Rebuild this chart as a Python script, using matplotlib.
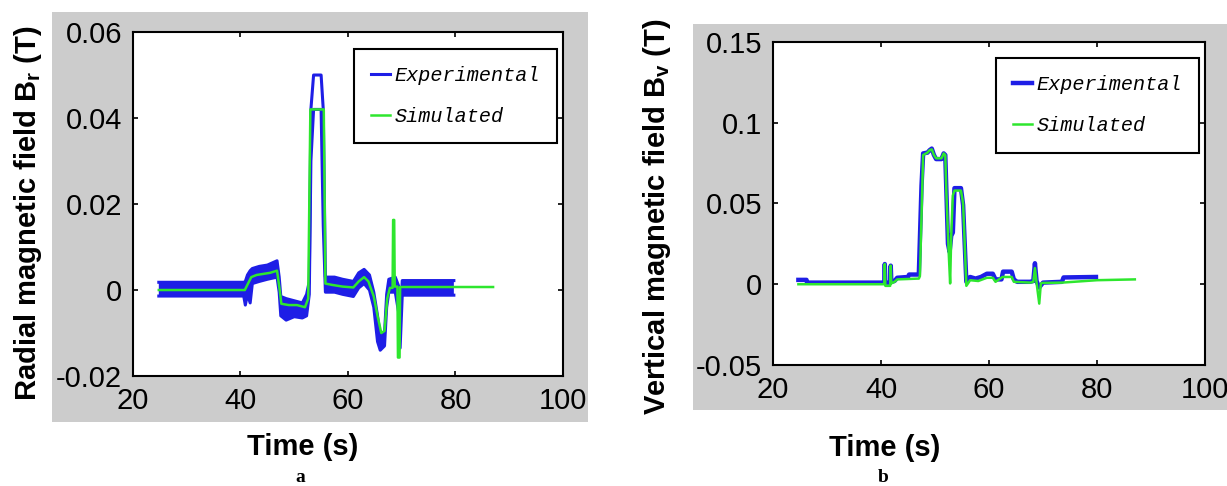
import matplotlib
matplotlib.use("Agg")
import matplotlib.pyplot as plt
from matplotlib.patches import Rectangle
from matplotlib.ticker import FormatStrFormatter

# ---- (a) radial field: experimental noise envelope (time, lower, upper) ----
exp_a_t = [24.8, 40.6, 40.9, 41.3, 41.8, 42.2, 43.5, 45.0, 46.8, 47.2, 47.5, 48.5,
           50.0, 51.5, 52.3, 52.8, 53.1, 53.6, 55.0, 55.4, 55.8, 57.5, 59.0, 61.0,
           62.0, 63.0, 64.0, 64.8, 65.5, 66.0, 66.8, 67.2, 67.6, 68.8, 69.4, 69.7,
           70.1, 79.7]
exp_a_lo = [-0.0014, -0.0014, -0.0035, -0.0010, -0.0030, 0.0015, 0.0020, 0.0025,
            0.0030, -0.0005, -0.0060, -0.0070, -0.0062, -0.0065, -0.0060, -0.0010,
            0.0300, 0.0420, 0.0420, 0.0150, -0.0005, -0.0005, -0.0010, -0.0015,
            0.0005, 0.0015, 0.0000, -0.0040, -0.0120, -0.0140, -0.0130, -0.0040,
            -0.0005, -0.0005, -0.0050, -0.0135, -0.0012, -0.0012]
exp_a_hi = [0.0018, 0.0018, 0.0020, 0.0035, 0.0045, 0.0050, 0.0055, 0.0058,
            0.0068, 0.0030, -0.0015, -0.0020, -0.0025, -0.0030, -0.0010, 0.0020,
            0.0420, 0.0500, 0.0500, 0.0420, 0.0030, 0.0030, 0.0025, 0.0020,
            0.0040, 0.0048, 0.0035, -0.0005, -0.0060, -0.0105, -0.0100, -0.0010,
            0.0025, 0.0030, 0.0010, -0.0080, 0.0022, 0.0022]

# ---- (a) radial field: simulated ----
sim_a_t = [24.8, 40.8, 41.2, 42.0, 43.0, 44.5, 45.5, 46.8, 47.3, 47.6, 49.0, 50.5,
           52.0, 52.6, 53.0, 55.5, 55.8, 57.0, 59.0, 61.0, 62.0, 63.0, 63.8, 64.8,
           65.5, 66.2, 66.8, 67.3, 67.8, 68.3, 68.4, 68.6, 68.7, 69.2, 69.3, 69.6,
           69.7, 87.0]
sim_a_v = [0.0000, 0.0000, 0.0010, 0.0030, 0.0035, 0.0038, 0.0040, 0.0045, 0.0000,
           -0.0032, -0.0035, -0.0035, -0.0040, -0.0020, 0.0420, 0.0420, 0.0015,
           0.0012, 0.0008, 0.0006, 0.0020, 0.0030, 0.0020, -0.0015, -0.0060,
           -0.0100, -0.0095, -0.0020, 0.0005, 0.0005, 0.0163, 0.0163, 0.0008,
           0.0008, -0.0157, -0.0157, 0.0007, 0.0007]

# ---- (b) vertical field: experimental ----
exp_b_t = [24.7, 26.2, 26.3, 40.6, 40.7, 40.8, 41.7, 41.8, 41.9, 42.5, 43.0, 45.0,
           45.2, 47.0, 47.2, 47.5, 47.8, 48.6, 49.0, 49.4, 49.8, 50.2, 51.2, 51.6,
           51.9, 52.1, 52.4, 52.7, 53.0, 53.3, 53.6, 54.8, 55.2, 55.5, 55.8, 56.5,
           57.5, 58.5, 59.6, 60.7, 61.2, 62.3, 62.6, 64.2, 64.6, 65.2, 67.6, 68.2,
           68.5, 68.8, 69.3, 70.0, 73.5, 73.8, 79.8]
exp_b_v = [0.0027, 0.0027, 0.0010, 0.0010, 0.0125, 0.0010, 0.0010, 0.0115, 0.0015,
           0.0020, 0.0040, 0.0045, 0.0060, 0.0060, 0.0280, 0.0610, 0.0810, 0.0815,
           0.0830, 0.0840, 0.0800, 0.0775, 0.0775, 0.0810, 0.0800, 0.0580, 0.0250,
           0.0200, 0.0300, 0.0320, 0.0595, 0.0595, 0.0490, 0.0250, 0.0015, 0.0045,
           0.0035, 0.0045, 0.0065, 0.0065, 0.0030, 0.0030, 0.0078, 0.0078, 0.0030,
           0.0015, 0.0015, 0.0020, 0.0130, 0.0020, -0.0020, 0.0010, 0.0015, 0.0042,
           0.0045]

# ---- (b) vertical field: simulated ----
sim_b_t = [24.7, 40.6, 40.7, 40.8, 41.7, 41.8, 41.9, 42.5, 43.0, 47.0, 47.2, 47.8,
           48.6, 49.0, 49.4, 49.8, 50.2, 51.2, 51.6, 51.9, 52.1, 52.5, 52.8, 53.0,
           53.3, 53.6, 54.8, 55.2, 55.5, 55.8, 56.5, 58.0, 59.6, 60.7, 61.2, 62.5,
           64.2, 64.6, 67.6, 68.2, 68.5, 68.8, 69.3, 69.6, 69.9, 73.5, 80.0, 87.0]
sim_b_v = [0.0, 0.0, 0.0125, -0.0010, -0.0010, 0.0115, 0.0005, 0.0015, 0.0030,
           0.0035, 0.0050, 0.0800, 0.0815, 0.0830, 0.0835, 0.0800, 0.0780, 0.0780,
           0.0810, 0.0800, 0.0570, 0.0220, 0.0005, 0.0300, 0.0550, 0.0580, 0.0580,
           0.0500, 0.0250, -0.0010, 0.0025, 0.0020, 0.0040, 0.0040, 0.0015, 0.0045,
           0.0045, 0.0015, 0.0010, 0.0015, 0.0100, 0.0010, -0.0120, 0.0005, 0.0008,
           0.0010, 0.0025, 0.0030]

x_ticks = [20, 40, 60, 80, 100]
y_ticks_a = [-0.02, 0, 0.02, 0.04, 0.06]
y_ticks_b = [-0.05, 0, 0.05, 0.1, 0.15]

BLUE = "#1e1ee6"
GREEN = "#2ee62e"
GRAY = "#cccccc"
SANS = "Liberation Sans"

fig = plt.figure(figsize=(12.27, 4.86), dpi=100)
fig.patch.set_facecolor("white")

# grey frames behind each panel
fig.patches.append(Rectangle((0.0424, 0.1317), 0.4368, 0.8436, transform=fig.transFigure,
                             facecolor=GRAY, edgecolor="none", zorder=-5))
fig.patches.append(Rectangle((0.5648, 0.1564), 0.4352, 0.7942, transform=fig.transFigure,
                             facecolor=GRAY, edgecolor="none", zorder=-5))

ax1 = fig.add_axes([0.1084, 0.2263, 0.3504, 0.7078])
ax2 = fig.add_axes([0.6300, 0.2490, 0.3521, 0.6646])


def style_axes(ax, yticks, ylim):
    ax.set_zorder(2)
    ax.set_xlim(20, 100)
    ax.set_ylim(*ylim)
    ax.set_xticks(x_ticks)
    ax.set_yticks(yticks)
    ax.yaxis.set_major_formatter(FormatStrFormatter("%g"))
    ax.tick_params(direction="in", length=3.5, width=1.2, top=True, right=True,
                   labelsize=21, pad=8)
    for lab in ax.get_xticklabels() + ax.get_yticklabels():
        lab.set_family(SANS)
    for sp in ax.spines.values():
        sp.set_linewidth(1.5)


# panel a
peak = [not (53.0 <= t <= 55.4) for t in exp_a_t]
ax1.fill_between(exp_a_t, exp_a_lo, exp_a_hi, where=peak, color=BLUE, lw=0)
ax1.plot(exp_a_t, exp_a_hi, color=BLUE, lw=2.2)
ax1.plot(exp_a_t, exp_a_lo, color=BLUE, lw=2.2, label="Experimental")
ax1.plot(sim_a_t, sim_a_v, color=GREEN, lw=1.8, label="Simulated")
style_axes(ax1, y_ticks_a, (-0.02, 0.06))

# panel b
ax2.plot(exp_b_t, exp_b_v, color=BLUE, lw=3.2, label="Experimental")
ax2.plot(sim_b_t, sim_b_v, color=GREEN, lw=1.8, label="Simulated")
style_axes(ax2, y_ticks_b, (-0.05, 0.15))

for ax, anchor in ((ax1, (0.514, 0.951)), (ax2, (0.516, 0.950))):
    leg = ax.legend(loc="upper left", bbox_to_anchor=anchor, borderaxespad=0,
                    fancybox=False, framealpha=1, edgecolor="black",
                    handlelength=0.95, handletextpad=0.2, borderpad=0.85,
                    labelspacing=1.1,
                    prop={"family": "Liberation Mono", "style": "italic", "size": 14.5})
    leg.get_frame().set_linewidth(1.5)

fig.text(0.0228, 0.560, r"Radial magnetic field B$_\mathregular{r}$ (T)", rotation=90,
         ha="center", va="center", fontsize=21, family=SANS, weight="bold")
fig.text(0.5355, 0.555, r"Vertical magnetic field B$_\mathregular{v}$ (T)", rotation=90,
         ha="center", va="center", fontsize=21, family=SANS, weight="bold")
fig.text(0.247, 0.080, "Time (s)", ha="center", va="center", fontsize=21, family=SANS,
         weight="bold")
fig.text(0.721, 0.078, "Time (s)", ha="center", va="center", fontsize=21, family=SANS,
         weight="bold")
fig.text(0.245, 0.018, "a", ha="center", va="center", fontsize=14,
         family="Liberation Serif", weight="bold")
fig.text(0.720, 0.018, "b", ha="center", va="center", fontsize=14,
         family="Liberation Serif", weight="bold")

fig.savefig("out.png", dpi=100)
